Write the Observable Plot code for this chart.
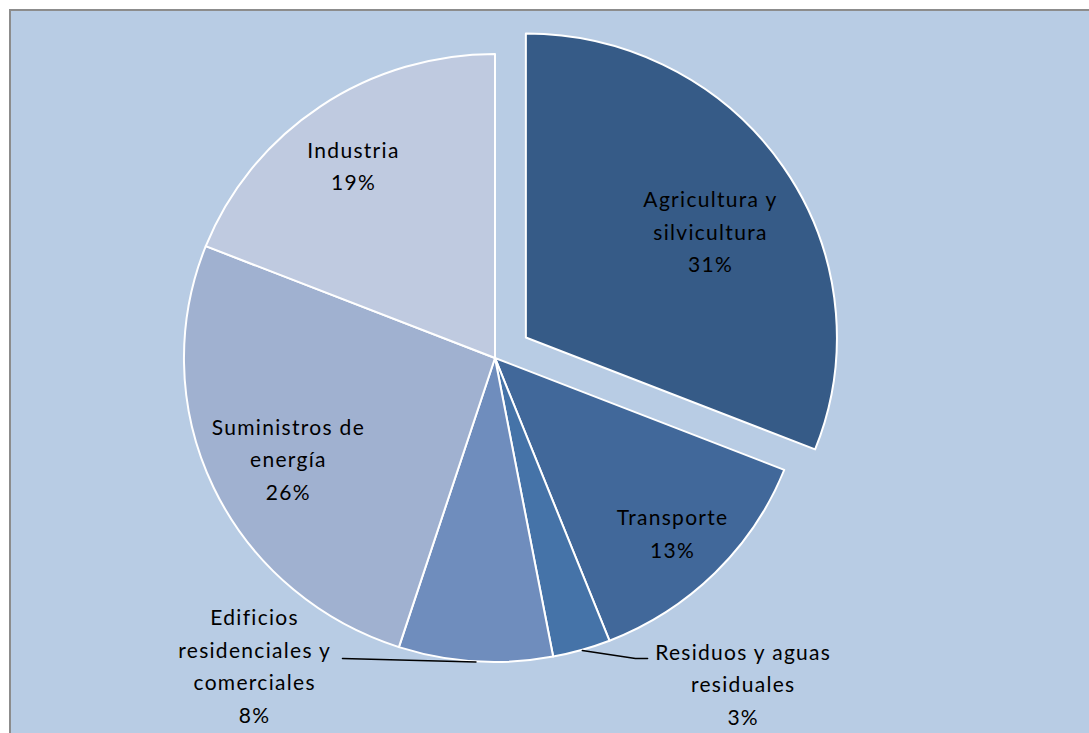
<!DOCTYPE html>
<html>
<head>
<meta charset="utf-8">
<script src="https://cdn.jsdelivr.net/npm/d3@7"></script>
<script src="https://cdn.jsdelivr.net/npm/@observablehq/plot@0.6"></script>
<style>
  html, body { margin: 0; padding: 0; background: #ffffff; }
  #chart svg { display: block; }
  #chart text { letter-spacing: 1.3px; }
</style>
</head>
<body>
<div id="chart"></div>
<script>
// ---- data ----
const categories = [
  "Agricultura y silvicultura",
  "Transporte",
  "Residuos y aguas residuales",
  "Edificios residenciales y comerciales",
  "Suministros de energía",
  "Industria"
];
const labelText = [
  "Agricultura y\nsilvicultura",
  "Transporte",
  "Residuos y aguas\nresiduales",
  "Edificios\nresidenciales y\ncomerciales",
  "Suministros de\nenergía",
  "Industria"
];
const values = [31, 13, 3, 8, 26, 19];

// ---- style / layout ----
const colors = ["#365b87", "#41689a", "#4573a8", "#6f8dbd", "#a0b1d0", "#bfcae0"];
const explodeBy = [0.12, 0, 0, 0, 0, 0];            // radial offset (radius units)
// label placement: [angle (deg clockwise from top), distance (radius units)]
const labelPolar = [[59.8, 0.685], [135.6, 0.814], [143.5, 1.339], [217.3, 1.278], [243.2, 0.746], [324, 0.777]];
// leader line extra points (radius units) for outside labels
const leaderPts = {2: [[0.450, -0.987], [0.489, -0.987]], 3: [[-0.492, -0.987]]};
const bg = "#b8cce4";

const arcs = d3.pie().sort(null).value(d => d)(values);
const slices = arcs.map((a, i) => {
  const mid = (a.startAngle + a.endAngle) / 2;
  const ox = explodeBy[i] * Math.sin(mid);
  const oy = explodeBy[i] * Math.cos(mid);
  const [deg, r] = labelPolar[i];
  const la = deg * Math.PI / 180;
  return {
    i, category: categories[i], value: values[i],
    start: a.startAngle, end: a.endAngle, mid, ox, oy,
    lx: ox + r * Math.sin(la), ly: oy + r * Math.cos(la),
    label: labelText[i] + "\n" + values[i] + "%"
  };
});

const leaders = [];
for (const k of Object.keys(leaderPts)) {
  const s = slices[+k];
  leaders.push({k, x: s.ox + Math.sin(s.mid), y: s.oy + Math.cos(s.mid)});
  for (const [x, y] of leaderPts[k]) leaders.push({k, x, y});
}

const backgroundMark = () => {
  const r = document.createElementNS("http://www.w3.org/2000/svg", "rect");
  r.setAttribute("x", 10); r.setAttribute("y", 10);
  r.setAttribute("width", 1200); r.setAttribute("height", 1200);
  r.setAttribute("fill", bg);
  r.setAttribute("stroke", "#8c8c8c");
  r.setAttribute("stroke-width", 2);
  return r;
};

const pieMark = (index, scales) => {
  const {x, y} = scales;
  const rx = x(1) - x(0), ry = y(0) - y(1);
  const g = document.createElementNS("http://www.w3.org/2000/svg", "g");
  const arcGen = d3.arc().innerRadius(0).outerRadius(1);
  for (const s of slices) {
    const p = document.createElementNS("http://www.w3.org/2000/svg", "path");
    p.setAttribute("d", arcGen({startAngle: s.start, endAngle: s.end}));
    p.setAttribute("transform", `translate(${x(s.ox)},${y(s.oy)}) scale(${rx},${ry})`);
    p.setAttribute("fill", colors[s.i]);
    p.setAttribute("stroke", "#ffffff");
    p.setAttribute("stroke-width", 2);
    p.setAttribute("stroke-linejoin", "round");
    p.setAttribute("vector-effect", "non-scaling-stroke");
    g.appendChild(p);
  }
  return g;
};

const chart = Plot.plot({
  width: 1089,
  height: 733,
  margin: 0,
  style: {background: "#ffffff", overflow: "hidden"},
  x: {type: "linear", domain: [-1, 1], range: [184, 806], axis: null},
  y: {type: "linear", domain: [-1, 1], range: [662, 54], axis: null},
  marks: [
    backgroundMark,
    pieMark,
    Plot.line(leaders, {x: "x", y: "y", z: "k", stroke: "#000000", strokeWidth: 1.5}),
    Plot.text(slices, {
      x: "lx", y: "ly", text: "label", dy: -4,
      fontSize: 21, lineHeight: 1.55,
      fontFamily: "Lato, 'Open Sans', sans-serif",
      fill: "#000000", textAnchor: "middle", lineAnchor: "middle"
    })
  ]
});
document.getElementById("chart").appendChild(chart);
</script>
</body>
</html>
